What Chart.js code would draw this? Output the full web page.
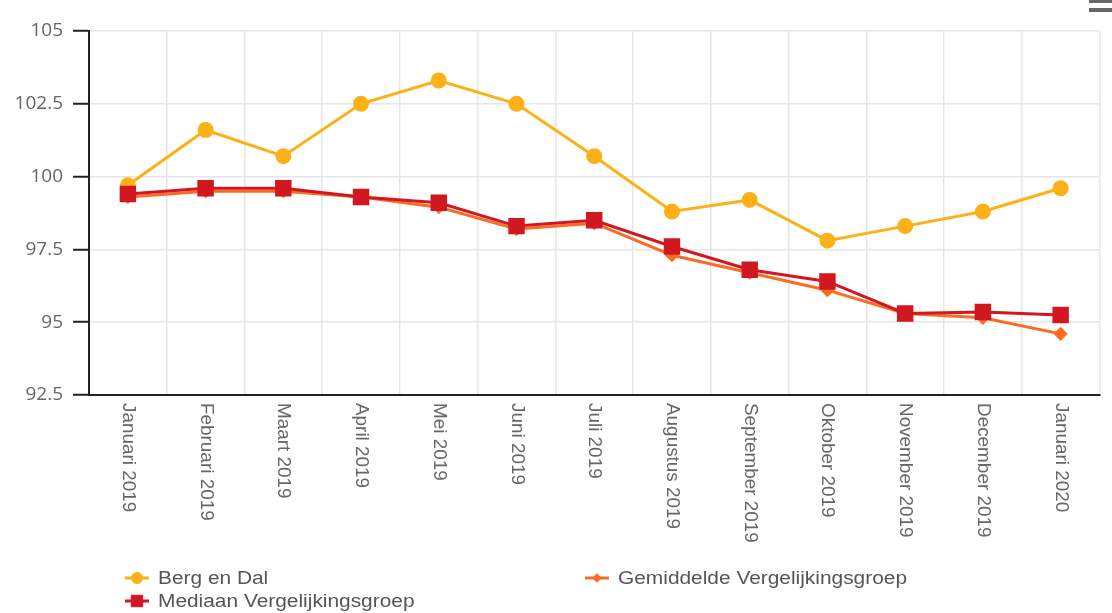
<!DOCTYPE html>
<html>
<head>
<meta charset="utf-8">
<script src="https://cdn.jsdelivr.net/npm/chart.js@4/dist/chart.umd.min.js"></script>
<style>
  html, body { margin: 0; padding: 0; background: #fff; }
  #wrap { position: relative; width: 1112px; height: 613px; }
  .bar { position: absolute; left: 1089px; width: 23px; height: 4px; background: #666; }
</style>
</head>
<body>
<div id="wrap">
  <canvas id="indexChart" width="1112" height="613"></canvas>
  <div class="bar" style="top:-1px"></div>
  <div class="bar" style="top:8px"></div>
</div>
<script>
// categories and series
const months = ['Januari 2019', 'Februari 2019', 'Maart 2019', 'April 2019', 'Mei 2019', 'Juni 2019',
    'Juli 2019', 'Augustus 2019', 'September 2019', 'Oktober 2019', 'November 2019', 'December 2019', 'Januari 2020'];
const bergEnDal = [99.7, 101.6, 100.7, 102.5, 103.3, 102.5, 100.7, 98.8, 99.2, 97.8, 98.3, 98.8, 99.6];
const gemiddelde = [99.3, 99.5, 99.5, 99.3, 98.95, 98.2, 98.4, 97.3, 96.7, 96.1, 95.3, 95.15, 94.6];
const mediaan = [99.4, 99.6, 99.6, 99.3, 99.1, 98.3, 98.5, 97.6, 96.8, 96.4, 95.3, 95.35, 95.25];
const yTicks = [92.5, 95, 97.5, 100, 102.5, 105];

const labelFont = '18px "Liberation Sans", Arial, sans-serif';

// x labels read top-to-bottom, so draw them ourselves
const rotatedLabels = {
    id: 'rotatedLabels',
    afterDraw(chart) {
        const ctx = chart.ctx;
        const x = chart.scales.x;
        ctx.save();
        ctx.font = labelFont;
        ctx.fillStyle = '#666';
        ctx.textAlign = 'left';
        ctx.textBaseline = 'middle';
        months.forEach((m, i) => {
            const px = x.getPixelForValue(i);
            ctx.save();
            ctx.translate(px, x.top + 8);
            ctx.rotate(Math.PI / 2);
            ctx.scale(1.05, 1);
            ctx.fillText(m, 0, 0);
            ctx.restore();
        });
        ctx.restore();
    }
};

// legend laid out in two columns like the original
const gridLegend = {
    id: 'gridLegend',
    afterDraw(chart) {
        const ctx = chart.ctx;
        const spots = [[125, 578], [125, 601], [585, 578]];
        const order = [0, 2, 1];
        ctx.save();
        order.forEach((di, k) => {
            const ds = chart.data.datasets[di];
            const [lx, ly] = spots[k];
            ctx.strokeStyle = ds.borderColor;
            ctx.lineWidth = 3;
            ctx.beginPath();
            ctx.moveTo(lx, ly);
            ctx.lineTo(lx + 24, ly);
            ctx.stroke();
            ctx.fillStyle = ds.backgroundColor;
            ctx.strokeStyle = ds.backgroundColor;
            ctx.lineWidth = 1;
            Chart.helpers.drawPoint(ctx, {
                pointStyle: ds.pointStyle,
                radius: ds.pointRadius * 0.85,
                borderWidth: 1
            }, lx + 12, ly);
            ctx.fillStyle = '#555';
            ctx.font = labelFont;
            ctx.textAlign = 'left';
            ctx.textBaseline = 'middle';
            ctx.save();
            ctx.translate(lx + 33, ly + 1);
            ctx.scale(1.16, 1);
            ctx.fillText(ds.label, 0, 0);
            ctx.restore();
        });
        ctx.restore();
    }
};

new Chart(document.getElementById('indexChart').getContext('2d'), {
    type: 'line',
    data: {
        labels: months,
        datasets: [{
            label: 'Berg en Dal',
            data: bergEnDal,
            borderColor: '#fbb117',
            backgroundColor: '#fbb117',
            pointStyle: 'circle',
            pointRadius: 6.5,
            borderWidth: 3,
            order: 3
        }, {
            label: 'Gemiddelde Vergelijkingsgroep',
            data: gemiddelde,
            borderColor: '#fd6a22',
            backgroundColor: '#fd6a22',
            pointStyle: 'rectRot',
            pointRadius: 5,
            borderWidth: 3,
            order: 2
        }, {
            label: 'Mediaan Vergelijkingsgroep',
            data: mediaan,
            borderColor: '#d1171f',
            backgroundColor: '#d1171f',
            pointStyle: 'rect',
            pointRadius: 9.5,
            borderWidth: 3,
            order: 1
        }]
    },
    options: {
        responsive: false,
        animation: false,
        layout: { padding: { top: 31, right: 10, left: 0, bottom: 0 } },
        plugins: {
            legend: { display: false },
            tooltip: { enabled: false }
        },
        elements: { line: { tension: 0 } },
        scales: {
            x: {
                offset: true,
                grid: { offset: true, color: '#e6e6e6', lineWidth: 1.5, drawTicks: false },
                border: { color: '#222', width: 2 },
                ticks: { display: false },
                afterFit(scale) { scale.height = 218; }
            },
            y: {
                min: 92.5,
                max: 105,
                afterBuildTicks(scale) { scale.ticks = yTicks.map(v => ({ value: v })); },
                grid: { color: '#e6e6e6', lineWidth: 1.5, tickLength: 16, tickColor: '#222', tickWidth: 2 },
                border: { color: '#222', width: 2 },
                ticks: {
                    color: '#666',
                    padding: 10,
                    font: { family: '"Open Sans", sans-serif', size: 19 }
                },
                afterFit(scale) { scale.width = 89; }
            }
        }
    },
    plugins: [rotatedLabels, gridLegend]
});
</script>
</body>
</html>
